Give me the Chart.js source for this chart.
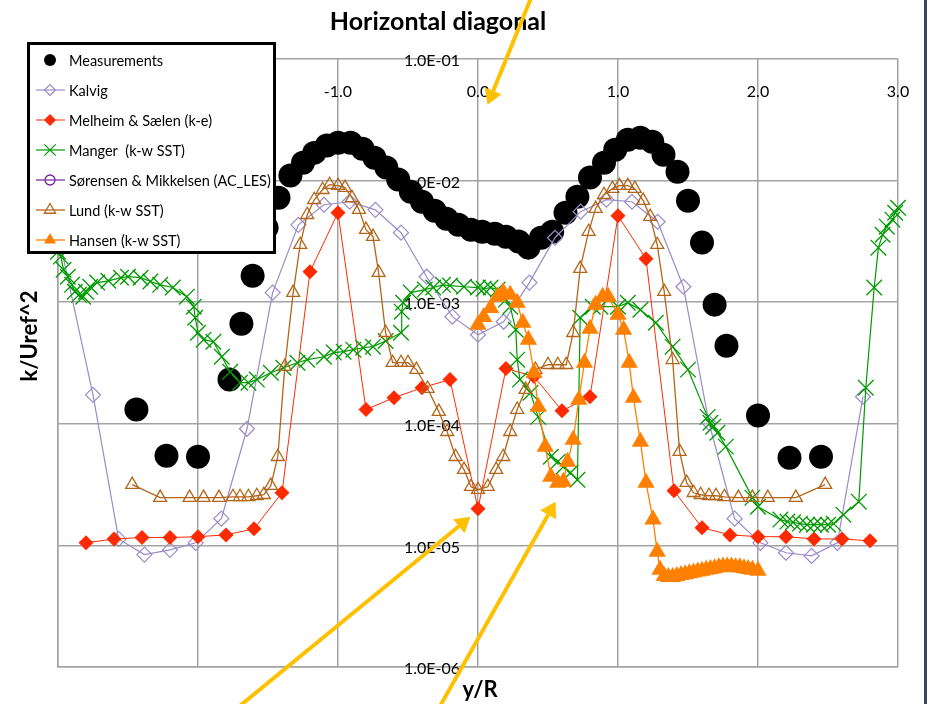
<!DOCTYPE html>
<html>
<head>
<meta charset="utf-8">
<script src="https://cdn.jsdelivr.net/npm/chart.js@4/dist/chart.umd.min.js"></script>
<style>
  html, body { margin: 0; padding: 0; background: #fff; }
  #wrap { position: relative; width: 928px; height: 704px; overflow: hidden; }
  #edge { position: absolute; left: 924px; top: 0; width: 3px; height: 704px; background: #3b4561; }
</style>
</head>
<body>
<div id="wrap">
  <canvas id="chart" width="928" height="704" style="width:928px;height:704px"></canvas>
  <div id="edge"></div>
</div>
<script>
// Turbulent kinetic energy along the horizontal diagonal, k/Uref^2 versus y/R

const xTicks = [-3, -2, -1, 0, 1, 2, 3];
const xTickLabels = ['-3.0', '-2.0', '-1.0', '0.0', '1.0', '2.0', '3.0'];
const yTicks = [1e-6, 1e-5, 1e-4, 1e-3, 1e-2, 1e-1];
const yTickLabels = ['1.0E-06', '1.0E-05', '1.0E-04', '1.0E-03', '1.0E-02', '1.0E-01'];

const measX = [-2.44, -2.225, -2.00, -1.775, -1.69, -1.61, -1.51, -1.425, -1.34, -1.25, -1.17, -1.08, -1.00, -0.91, -0.825, -0.74, -0.655, -0.57, -0.48, -0.40, -0.31, -0.225, -0.14, -0.05, 0.03, 0.12, 0.20, 0.29, 0.36, 0.45, 0.53, 0.625, 0.71, 0.80, 0.90, 0.98, 1.07, 1.16, 1.245, 1.325, 1.425, 1.50, 1.60, 1.69, 1.775, 2.00, 2.225, 2.45];
const measY = [1.31e-4, 5.47e-5, 5.36e-5, 2.31e-4, 6.65e-4, 1.65e-3, 4.10e-3, 7.24e-3, 1.10e-2, 1.40e-2, 1.69e-2, 1.94e-2, 2.05e-2, 2.05e-2, 1.83e-2, 1.54e-2, 1.28e-2, 1.02e-2, 8.1e-3, 6.7e-3, 5.65e-3, 4.86e-3, 4.34e-3, 3.95e-3, 3.80e-3, 3.66e-3, 3.46e-3, 3.15e-3, 2.81e-3, 3.39e-3, 3.80e-3, 5.45e-3, 7.38e-3, 1.06e-2, 1.40e-2, 1.79e-2, 2.17e-2, 2.25e-2, 2.09e-2, 1.63e-2, 1.18e-2, 6.84e-3, 3.09e-3, 9.55e-4, 4.39e-4, 1.17e-4, 5.26e-5, 5.36e-5];

const kalvigX = [-3.0, -2.75, -2.567, -2.383, -2.2, -2.017, -1.833, -1.65, -1.467, -1.283, -1.1, -0.917, -0.733, -0.55, -0.367, -0.183, 0, 0.183, 0.367, 0.55, 0.733, 0.917, 1.1, 1.283, 1.467, 1.65, 1.833, 2.017, 2.2, 2.383, 2.567, 2.75];
const kalvigY = [3.7e-3, 1.73e-4, 1.13e-5, 8.4e-6, 9.2e-6, 1.05e-5, 1.66e-5, 9.1e-5, 1.20e-3, 4.33e-3, 6.33e-3, 6.7e-3, 5.75e-3, 3.73e-3, 1.62e-3, 7.6e-4, 5.4e-4, 6.9e-4, 1.45e-3, 3.39e-3, 5.55e-3, 6.97e-3, 6.7e-3, 4.59e-3, 1.34e-3, 1.02e-4, 1.66e-5, 1.05e-5, 8.7e-6, 8.2e-6, 1.05e-5, 1.67e-4];

const melheimX = [-2.8, -2.6, -2.4, -2.2, -2.0, -1.8, -1.6, -1.4, -1.2, -1.0, -0.8, -0.6, -0.4, -0.2, 0, 0.2, 0.4, 0.6, 0.8, 1.0, 1.2, 1.4, 1.6, 1.8, 2.0, 2.2, 2.4, 2.6, 2.8];
const melheimY = [1.05e-5, 1.13e-5, 1.16e-5, 1.16e-5, 1.18e-5, 1.22e-5, 1.37e-5, 2.71e-5, 1.78e-3, 5.45e-3, 1.31e-4, 1.64e-4, 1.98e-4, 2.31e-4, 2.0e-5, 2.85e-4, 2.45e-4, 1.28e-4, 1.67e-4, 5.14e-3, 2.28e-3, 2.81e-5, 1.40e-5, 1.22e-5, 1.18e-5, 1.18e-5, 1.13e-5, 1.13e-5, 1.09e-5];

const mangerX = [-3.00, -2.98, -2.96, -2.93, -2.90, -2.88, -2.85, -2.82, -2.80, -2.77,
  -2.72, -2.64, -2.55, -2.50, -2.41, -2.34, -2.27, -2.18, -2.08, -2.03,
  -2.02, -2.00, -1.96, -1.89, -1.83, -1.77, -1.70, -1.64, -1.58, -1.48,
  -1.39, -1.29, -1.22, -1.10, -1.03, -0.96, -0.89, -0.82, -0.75, -0.66,
  -0.55, -0.545, -0.535, -0.48, -0.38, -0.32, -0.25, -0.20, -0.10, 0.00,
  0.04, 0.09, 0.14, 0.20, 0.23, 0.27, 0.28, 0.30, 0.375, 0.43,
  0.52, 0.57, 0.61, 0.66, 0.71, 0.73, 0.82, 0.875, 1.00, 1.07,
  1.16, 1.27, 1.39, 1.50, 1.64, 1.66, 1.68, 1.71, 1.77, 1.96,
  2.00, 2.16, 2.21, 2.25, 2.30, 2.35, 2.40, 2.45, 2.50, 2.54,
  2.61, 2.72, 2.77, 2.83, 2.86, 2.89, 2.92, 2.96, 2.98, 3.00];
const mangerY = [2.6e-3, 2.37e-3, 1.85e-3, 1.62e-3, 1.39e-3, 1.22e-3, 1.15e-3, 1.11e-3, 1.22e-3, 1.34e-3,
  1.45e-3, 1.50e-3, 1.59e-3, 1.62e-3, 1.59e-3, 1.48e-3, 1.39e-3, 1.32e-3, 1.11e-3, 9.18e-4,
  7.45e-4, 5.61e-4, 4.92e-4, 4.73e-4, 3.56e-4, 2.68e-4, 2.18e-4, 2.18e-4, 2.31e-4, 2.63e-4,
  2.89e-4, 3.18e-4, 3.37e-4, 3.56e-4, 3.85e-4, 3.92e-4, 4.07e-4, 4.22e-4, 4.31e-4, 4.8e-4,
  5.61e-4, 8.36e-4, 9.9e-4, 1.20e-3, 1.27e-3, 1.32e-3, 1.39e-3, 1.37e-3, 1.34e-3, 1.32e-3,
  1.29e-3, 1.32e-3, 1.27e-3, 1.05e-3, 9.18e-4, 5.94e-4, 3.37e-4, 2.31e-4, 1.80e-4, 1.14e-4,
  5.36e-5, 4.88e-5, 4.44e-5, 3.96e-5, 3.47e-5, 7.45e-4, 9.18e-4, 9.18e-4, 9.18e-4, 9.9e-4,
  8.67e-4, 6.78e-4, 4.31e-4, 2.79e-4, 1.14e-4, 1.02e-4, 9.46e-5, 8.45e-5, 6.49e-5, 2.47e-5,
  2.08e-5, 1.63e-5, 1.57e-5, 1.55e-5, 1.51e-5, 1.48e-5, 1.48e-5, 1.48e-5, 1.48e-5, 1.51e-5,
  1.79e-5, 2.29e-5, 1.98e-4, 1.32e-3, 2.81e-3, 3.59e-3, 4.18e-3, 4.77e-3, 5.44e-3, 5.98e-3];

const sorensenX = [];
const sorensenY = [];

const lundX = [-2.47, -2.27, -2.06, -1.96, -1.85, -1.75, -1.70, -1.64, -1.58, -1.53, -1.48, -1.43, -1.38, -1.32, -1.27, -1.22, -1.17, -1.11, -1.06, -1.00, -0.95, -0.90, -0.85, -0.80, -0.75, -0.71, -0.66, -0.61, -0.55, -0.50, -0.44, -0.36, -0.28, -0.22, -0.16, -0.10, -0.05, 0.00, 0.07, 0.13, 0.18, 0.23, 0.28, 0.34, 0.41, 0.50, 0.57, 0.63, 0.68, 0.73, 0.79, 0.84, 0.90, 0.96, 1.01, 1.07, 1.12, 1.18, 1.23, 1.28, 1.33, 1.39, 1.44, 1.49, 1.54, 1.59, 1.65, 1.70, 1.76, 1.86, 1.96, 2.07, 2.27, 2.48];
const lundY = [3.16e-5, 2.47e-5, 2.47e-5, 2.47e-5, 2.47e-5, 2.51e-5, 2.51e-5, 2.51e-5, 2.56e-5, 2.61e-5, 3.10e-5, 5.36e-5, 2.95e-4, 1.20e-3, 2.97e-3, 5.24e-3, 6.96e-3, 8.41e-3, 9.25e-3, 9.08e-3, 8.75e-3, 7.22e-3, 5.77e-3, 3.95e-3, 3.46e-3, 1.75e-3, 5.61e-4, 3.18e-4, 3.18e-4, 3.18e-4, 2.79e-4, 1.95e-4, 1.26e-4, 8.6e-5, 5.36e-5, 4.20e-5, 3.04e-5, 2.87e-5, 3.04e-5, 4.20e-5, 5.36e-5, 8.6e-5, 1.31e-4, 1.91e-4, 2.79e-4, 3.06e-4, 3.06e-4, 3.06e-4, 5.61e-4, 1.89e-3, 3.80e-3, 5.88e-3, 7.65e-3, 8.58e-3, 9.08e-3, 9.08e-3, 8.58e-3, 6.84e-3, 5.05e-3, 2.97e-3, 1.22e-3, 3.36e-4, 5.9e-5, 3.28e-5, 2.71e-5, 2.61e-5, 2.56e-5, 2.56e-5, 2.51e-5, 2.47e-5, 2.47e-5, 2.47e-5, 2.47e-5, 3.16e-5];

const hansenX = [0.00, 0.04, 0.09, 0.14, 0.18, 0.23, 0.28, 0.32, 0.36, 0.40, 0.43, 0.48, 0.52, 0.57, 0.61, 0.64, 0.68, 0.72, 0.76, 0.80, 0.84, 0.89, 0.93, 1.00, 1.04, 1.08, 1.11, 1.16, 1.20, 1.25, 1.28, 1.30, 1.33, 1.36, 1.39, 1.42, 1.45, 1.48, 1.51, 1.54, 1.57, 1.60, 1.63, 1.66, 1.69, 1.72, 1.75, 1.78, 1.81, 1.84, 1.87, 1.90, 1.93, 1.96, 2.00];
const hansenY = [6.51e-4, 7.57e-4, 8.98e-4, 1.11e-3, 1.20e-3, 1.15e-3, 9.9e-4, 6.78e-4, 4.92e-4, 2.63e-4, 1.38e-4, 6.49e-5, 3.67e-5, 3.28e-5, 3.34e-5, 4.88e-5, 7.40e-5, 1.58e-4, 3.18e-4, 6.05e-4, 9.53e-4, 1.11e-3, 1.11e-3, 7.89e-4, 5.94e-4, 3.18e-4, 1.64e-4, 7.13e-5, 3.28e-5, 1.63e-5, 8.87e-6, 6.31e-6, 5.6e-6, 5.5e-6, 5.5e-6, 5.6e-6, 5.7e-6, 5.8e-6, 5.9e-6, 6.0e-6, 6.1e-6, 6.2e-6, 6.3e-6, 6.4e-6, 6.5e-6, 6.6e-6, 6.7e-6, 6.7e-6, 6.7e-6, 6.6e-6, 6.6e-6, 6.5e-6, 6.4e-6, 6.3e-6, 6.2e-6];

// Callout arrows, given as [y/R, k/Uref^2] for tail and head
const arrows = [
  { from: [0.38, 0.32], to: [0.068, 0.042] },
  { from: [-1.70, 4.8e-7], to: [-0.054, 1.72e-5] },
  { from: [-0.27, 4.8e-7], to: [0.554, 2.29e-5] }
];

const FONT = 'Lato, "Open Sans", "DejaVu Sans", sans-serif';
const GRID = '#a3a3a3';
const ARROW = '#ffc000';
const NONE = 'rgba(0,0,0,0)';

const pts = (xs, ys) => xs.map((x, i) => ({ x, y: ys[i] }));

const datasets = [
  { label: 'Measurements', data: pts(measX, measY), showLine: false,
    borderColor: '#000', pointStyle: 'circle', pointRadius: 12,
    pointBackgroundColor: '#000', pointBorderColor: '#000', pointBorderWidth: 0,
    legendRadius: 6, order: 6 },
  { label: 'Kalvig', data: pts(kalvigX, kalvigY), borderColor: '#9a8cc8', borderWidth: 1.2,
    pointStyle: 'rectRot', pointRadius: 7.5, pointBackgroundColor: NONE,
    pointBorderColor: '#9a8cc8', pointBorderWidth: 1.2, legendRadius: 5.5, order: 5 },
  { label: 'Melheim & Sælen (k-e)', data: pts(melheimX, melheimY), borderColor: '#ff2a00', borderWidth: 1,
    pointStyle: 'rectRot', pointRadius: 7.5, pointBackgroundColor: '#ff2a00',
    pointBorderColor: '#ff2a00', pointBorderWidth: 0, legendRadius: 6, order: 4 },
  { label: 'Manger  (k-w SST)', data: pts(mangerX, mangerY), borderColor: '#009a00', borderWidth: 1.2,
    pointStyle: 'crossRot', pointRadius: 11, pointBackgroundColor: NONE,
    pointBorderColor: '#009a00', pointBorderWidth: 1.3, legendRadius: 8, order: 3 },
  { label: 'Sørensen & Mikkelsen (AC_LES)', data: pts(sorensenX, sorensenY), borderColor: '#7a1fa0', borderWidth: 1.2,
    pointStyle: 'circle', pointRadius: 6, pointBackgroundColor: NONE,
    pointBorderColor: '#7a1fa0', pointBorderWidth: 1.3, legendRadius: 5, order: 2 },
  { label: 'Lund (k-w SST)', data: pts(lundX, lundY), borderColor: '#b3661a', borderWidth: 1.3,
    pointStyle: 'triangle', pointRadius: 7.5, pointBackgroundColor: NONE,
    pointBorderColor: '#b3661a', pointBorderWidth: 1.3, legendRadius: 6.5, order: 1 },
  { label: 'Hansen (k-w SST)', data: pts(hansenX, hansenY), borderColor: '#ff8000', borderWidth: 1.3,
    pointStyle: 'triangle', pointRadius: 10, pointBackgroundColor: '#ff8000',
    pointBorderColor: '#ff8000', pointBorderWidth: 0, legendRadius: 7, order: 0 }
];

const decor = {
  id: 'decor',
  beforeDatasetsDraw(chart) {
    const { ctx, chartArea: a, scales: { x, y } } = chart;
    ctx.save();
    ctx.fillStyle = '#000';
    ctx.font = '16px ' + FONT;
    ctx.textBaseline = 'middle';
    ctx.textAlign = 'center';
    xTicks.forEach((v, i) => ctx.fillText(xTickLabels[i], x.getPixelForValue(v), a.top + 33));
    ctx.textAlign = 'right';
    const lx = x.getPixelForValue(0) - 18;
    yTicks.forEach((v, i) => ctx.fillText(yTickLabels[i], lx, y.getPixelForValue(v) + 2));
    ctx.restore();
  },
  afterDraw(chart) {
    const { ctx, scales: { x, y } } = chart;
    ctx.save();

    // titles
    ctx.fillStyle = '#000';
    ctx.textAlign = 'center';
    ctx.textBaseline = 'middle';
    ctx.font = 'bold 25px ' + FONT;
    ctx.fillText('Horizontal diagonal', 438, 22);
    ctx.font = 'bold 22px ' + FONT;
    ctx.fillText('y/R', 480, 690);
    ctx.save();
    ctx.translate(30, 336);
    ctx.rotate(-Math.PI / 2);
    ctx.fillText('k/Uref^2', 0, 0);
    ctx.restore();

    // legend
    ctx.fillStyle = '#fff';
    ctx.fillRect(27, 42, 249, 212);
    ctx.strokeStyle = '#000';
    ctx.lineWidth = 3;
    ctx.strokeRect(28.5, 43.5, 246, 209);
    ctx.font = '14.5px ' + FONT;
    ctx.textAlign = 'left';
    chart.data.datasets.forEach((ds, i) => {
      const cy = 60 + i * 30;
      if (ds.showLine !== false) {
        ctx.strokeStyle = ds.borderColor;
        ctx.lineWidth = ds.borderWidth;
        ctx.beginPath();
        ctx.moveTo(36, cy);
        ctx.lineTo(65, cy);
        ctx.stroke();
      }
      ctx.fillStyle = ds.pointBackgroundColor;
      ctx.strokeStyle = ds.pointBorderColor;
      ctx.lineWidth = ds.pointBorderWidth || 1;
      Chart.helpers.drawPoint(ctx, { pointStyle: ds.pointStyle, radius: ds.legendRadius, rotation: 0, borderWidth: ds.pointBorderWidth }, 50, cy);
      ctx.fillStyle = '#000';
      ctx.fillText(ds.label, 69, cy + 1);
    });

    // callout arrows
    ctx.strokeStyle = ARROW;
    ctx.fillStyle = ARROW;
    ctx.lineWidth = 4;
    arrows.forEach(ar => {
      const x1 = x.getPixelForValue(ar.from[0]), y1 = y.getPixelForValue(ar.from[1]);
      const x2 = x.getPixelForValue(ar.to[0]), y2 = y.getPixelForValue(ar.to[1]);
      const ang = Math.atan2(y2 - y1, x2 - x1);
      const head = 15, half = 9;
      const bx = x2 - head * Math.cos(ang), by = y2 - head * Math.sin(ang);
      ctx.beginPath();
      ctx.moveTo(x1, y1);
      ctx.lineTo(bx, by);
      ctx.stroke();
      ctx.beginPath();
      ctx.moveTo(x2, y2);
      ctx.lineTo(bx + half * Math.sin(ang), by - half * Math.cos(ang));
      ctx.lineTo(bx - half * Math.sin(ang), by + half * Math.cos(ang));
      ctx.closePath();
      ctx.fill();
    });
    ctx.restore();
  }
};

new Chart(document.getElementById('chart'), {
  type: 'line',
  data: { datasets: datasets.map(d => Object.assign({ tension: 0, fill: false, clip: false, pointHoverRadius: d.pointRadius }, d)) },
  options: {
    responsive: false,
    animation: false,
    devicePixelRatio: 1,
    events: [],
    layout: { padding: { left: 58, top: 59, right: 30, bottom: 37 } },
    plugins: { legend: { display: false }, title: { display: false }, tooltip: { enabled: false } },
    scales: {
      x: {
        type: 'linear', min: -3, max: 3,
        ticks: { display: false, stepSize: 1 },
        grid: { color: GRID, lineWidth: 1.5, drawTicks: false },
        border: { color: GRID, width: 1.5 }
      },
      y: {
        type: 'logarithmic', min: 1e-6, max: 1e-1,
        ticks: { display: false },
        afterBuildTicks: s => { s.ticks = yTicks.map(v => ({ value: v })); },
        grid: { color: GRID, lineWidth: 1.5, drawTicks: false },
        border: { color: GRID, width: 1.5 }
      }
    }
  },
  plugins: [decor]
});
</script>
</body>
</html>
